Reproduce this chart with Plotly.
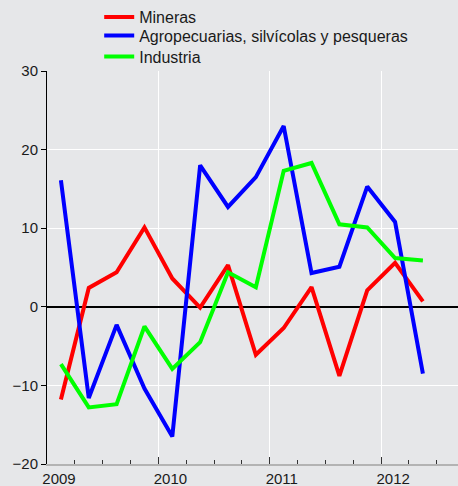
import plotly.graph_objects as go

quarters = [2009.125 + 0.25 * i for i in range(14)]
mineras = [-11.8, 2.4, 4.4, 10.1, 3.6, -0.1, 5.3, -6.1, -2.7, 2.5, -8.8, 2.1, 5.6, 0.7]
agro = [16.1, -11.6, -2.3, -10.4, -16.5, 18.0, 12.7, 16.5, 23.0, 4.3, 5.1, 15.3, 10.8, -8.5]
industria = [-7.3, -12.8, -12.4, -2.5, -7.9, -4.5, 4.4, 2.5, 17.3, 18.3, 10.5, 10.1, 6.2, 5.9]
year_ticks = [2009, 2010, 2011, 2012]
year_labels = ["2009", "2010", "2011", "2012"]

bg = "#e6e7e9"
fig = go.Figure()
series = [("Mineras", mineras, "#ff0000", "legend"),
          ("Agropecuarias, silvícolas y pesqueras", agro, "#0000ff", "legend2"),
          ("Industria", industria, "#00ff00", "legend3")]
for name, vals, col, lg in series:
    fig.add_trace(go.Scatter(x=quarters, y=vals, mode="lines", name=name,
                             line=dict(color=col, width=4), legend=lg))

H = 486
def leg(top_px):
    return dict(x=0.127, y=1 - top_px / H, xref="paper", yref="container",
                xanchor="left", yanchor="top",
                bgcolor="rgba(0,0,0,0)", font=dict(size=16))

fig.update_layout(
    width=458, height=H,
    margin=dict(l=47, r=0, t=71, b=22, autoexpand=False),
    paper_bgcolor=bg, plot_bgcolor=bg,
    font=dict(family="Liberation Sans, Arial, sans-serif", size=15, color="#1a1a1a"),
    showlegend=True,
    legend=leg(-3.5), legend2=leg(18.5), legend3=leg(39.5),
    xaxis=dict(range=[2009, 2012.69], tickvals=year_ticks, ticktext=year_labels,
               ticks="inside", ticklen=7, tickcolor="#333", ticklabelshift=12,
               showgrid=True, gridcolor="white", gridwidth=1,
               showline=True, linecolor="#b3b3b3", linewidth=2,
               zeroline=False, automargin=False,
               minor=dict(dtick=0.25, tick0=2009, ticks="inside", ticklen=4,
                          tickcolor="#333", showgrid=False)),
    yaxis=dict(range=[-20, 30], tickvals=[-20, -10, 0, 10, 20, 30],
               ticks="outside", ticklen=5, tickcolor="black",
               showgrid=True, gridcolor="white", gridwidth=1,
               showline=True, linecolor="black", linewidth=1,
               zeroline=True, zerolinecolor="black", zerolinewidth=1.5,
               automargin=False),
)

fig.write_html("out.html", config={"displayModeBar": False},
               post_script="document.body.style.margin='0';document.body.style.background='%s';" % bg)
